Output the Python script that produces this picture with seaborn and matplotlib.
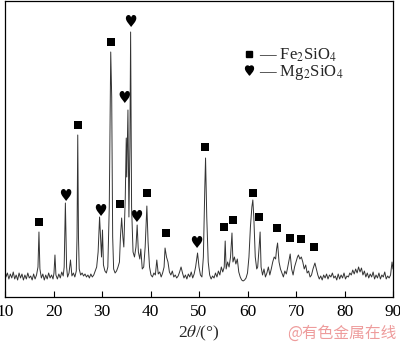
import matplotlib
matplotlib.use("Agg")
import matplotlib.pyplot as plt
import seaborn as sns
import pandas as pd
from matplotlib.lines import Line2D

# ---- data (2theta in degrees, intensity in arbitrary units) ----
two_theta = [
    10.0, 10.2, 10.5, 10.8, 11.1, 11.4, 11.7, 12.0, 12.3, 12.6, 12.9, 13.2, 13.5, 13.8, 14.1, 14.4,
    14.7, 15.0, 15.3, 15.6, 15.9, 16.2, 16.5, 16.8, 17.0, 17.2, 17.5, 17.8, 18.1, 18.4, 18.7, 19.0,
    19.3, 19.6, 19.9, 20.1, 20.3, 20.5, 20.8, 21.1, 21.4, 21.7, 22.0, 22.2, 22.45, 22.7, 22.9, 23.2,
    23.5, 23.8, 24.1, 24.4, 24.7, 24.85, 25.0, 25.15, 25.3, 25.6, 25.9, 26.2, 26.5, 26.8, 27.1, 27.4,
    27.7, 28.0, 28.3, 28.6, 28.9, 29.2, 29.5, 29.7, 29.9, 30.1, 30.3, 30.6, 30.9, 31.2, 31.5, 31.8,
    32.0, 32.2, 32.4, 32.7, 33.0, 33.3, 33.6, 33.8, 34.05, 34.3, 34.5, 34.8, 35.0, 35.1, 35.35, 35.55,
    35.75, 35.9, 36.1, 36.4, 36.7, 37.0, 37.25, 37.5, 37.8, 38.0, 38.3, 38.6, 38.9, 39.25, 39.5, 39.8,
    40.1, 40.4, 40.7, 41.0, 41.3, 41.6, 41.9, 42.2, 42.5, 42.8, 43.0, 43.3, 43.6, 43.9, 44.2, 44.5,
    44.8, 45.1, 45.4, 45.7, 46.0, 46.3, 46.6, 46.9, 47.2, 47.5, 47.8, 48.1, 48.4, 48.7, 49.0, 49.3,
    49.7, 50.0, 50.3, 50.6, 50.9, 51.2, 51.35, 51.6, 51.9, 52.2, 52.5, 52.8, 53.1, 53.4, 53.7, 54.0,
    54.3, 54.6, 54.9, 55.2, 55.4, 55.6, 55.9, 56.2, 56.5, 56.8, 57.0, 57.3, 57.6, 57.9, 58.2, 58.5,
    58.8, 59.1, 59.4, 59.7, 60.0, 60.3, 60.6, 60.9, 61.1, 61.3, 61.6, 61.9, 62.1, 62.4, 62.6, 62.8,
    63.1, 63.4, 63.7, 64.0, 64.3, 64.6, 64.9, 65.2, 65.5, 65.8, 66.0, 66.2, 66.5, 66.8, 67.1, 67.4,
    67.7, 68.0, 68.3, 68.6, 68.8, 69.1, 69.4, 69.7, 70.0, 70.3, 70.5, 70.8, 71.1, 71.4, 71.7, 72.0,
    72.3, 72.6, 72.9, 73.2, 73.5, 73.9, 74.2, 74.5, 74.8, 75.1, 75.4, 75.7, 76.0, 76.3, 76.6, 76.9,
    77.2, 77.5, 77.8, 78.1, 78.4, 78.7, 79.0, 79.3, 79.6, 79.9, 80.2, 80.5, 80.8, 81.1, 81.4, 81.7,
    82.0, 82.3, 82.6, 82.9, 83.2, 83.5, 83.8, 84.1, 84.4, 84.7, 85.0, 85.3, 85.6, 85.9, 86.2, 86.5,
    86.8, 87.1, 87.4, 87.7, 88.0, 88.3, 88.6, 88.9, 89.2, 89.5, 89.8, 90.0,
]
intensity = [
    29, 20, 24, 18, 23, 19, 25, 18, 22, 17, 24, 19, 23, 17, 22, 18,
    24, 19, 21, 17, 23, 18, 22, 30, 65, 28, 19, 23, 17, 22, 18, 24,
    19, 22, 18, 24, 42, 22, 18, 23, 19, 25, 21, 30, 94, 30, 20, 24,
    37, 21, 24, 20, 26, 60, 162, 60, 28, 22, 24, 21, 23, 20, 22, 19,
    23, 20, 22, 26, 30, 45, 80, 60, 40, 67, 32, 26, 24, 30, 90, 245,
    200, 60, 28, 24, 26, 30, 35, 60, 79, 60, 50, 100, 159, 120, 187, 80,
    150, 265, 90, 45, 40, 50, 72, 45, 38, 48, 28, 30, 50, 91, 55, 30,
    22, 20, 24, 22, 37, 23, 25, 20, 24, 30, 49, 40, 35, 25, 22, 26,
    20, 22, 19, 21, 25, 30, 24, 19, 22, 18, 23, 20, 25, 19, 23, 30,
    44, 30, 22, 20, 40, 110, 139, 80, 35, 22, 18, 21, 19, 24, 20, 26,
    22, 30, 25, 30, 56, 28, 35, 30, 40, 64, 35, 40, 33, 38, 25, 20,
    17, 16, 17, 19, 24, 40, 70, 90, 97, 80, 40, 28, 30, 50, 65, 30,
    22, 28, 20, 24, 30, 22, 28, 35, 40, 38, 48, 54, 35, 28, 24, 20,
    26, 23, 30, 38, 43, 28, 22, 30, 35, 40, 42, 38, 40, 35, 28, 32,
    24, 26, 20, 22, 28, 34, 28, 22, 18, 21, 17, 22, 19, 23, 18, 22,
    20, 24, 19, 21, 17, 23, 18, 22, 19, 24, 18, 21, 20, 24, 22, 27,
    23, 28, 24, 30, 25, 29, 22, 26, 20, 24, 19, 23, 20, 25, 18, 22,
    19, 24, 18, 22, 20, 25, 18, 21, 19, 22, 35, 28,
]

# phase markers (position, marker height)
fe2sio4_pos = [17.0, 25.05, 31.86, 33.7, 39.3, 43.2, 51.2, 55.2, 57.0, 61.1, 62.4, 66.1, 68.8, 71.0, 73.7]
fe2sio4_h = [75, 172, 255, 93, 104, 64, 150, 70, 77, 104, 80, 69, 59, 58, 50]
mg2sio4_pos = [22.6, 29.8, 34.7, 36.0, 37.2, 49.6]
mg2sio4_h = [102, 87, 200, 276, 81, 55]

x_ticks = [10, 20, 30, 40, 50, 60, 70, 80, 90]
phase_labels = ["\u2014 Fe$_2$SiO$_4$", "\u2014 Mg$_2$SiO$_4$"]

sns.set_theme(style="white")
plt.rcParams["font.family"] = ["Liberation Serif", "DejaVu Sans"]
plt.rcParams["mathtext.fontset"] = "stix"

fig = plt.figure(figsize=(4.0, 3.43), dpi=100)
ax = fig.add_axes([5 / 400, 1 - 297 / 343, 388 / 400, 296 / 343])

df = pd.DataFrame({"two_theta": two_theta, "intensity": intensity})
sns.lineplot(data=df, x="two_theta", y="intensity", ax=ax, color="#333333", lw=0.7)

sq = pd.DataFrame({"x": fe2sio4_pos, "y": fe2sio4_h})
ht = pd.DataFrame({"x": mg2sio4_pos, "y": mg2sio4_h})
sns.scatterplot(data=sq, x="x", y="y", marker="s", s=36, color="black", edgecolor="none", ax=ax)
sns.scatterplot(data=ht, x="x", y="y", marker="$\u2665$", s=75, color="black", edgecolor="none", ax=ax)

ax.set_xlim(10, 90)
ax.set_ylim(0, 296)
ax.set_xticks(x_ticks)
ax.set_xticklabels([str(t) for t in x_ticks], fontsize=12.5)
ax.set_yticks([])
ax.set_ylabel("")
ax.set_xlabel(r"2$\theta$/(°)", fontsize=12.5, labelpad=3)
ax.tick_params(axis="x", direction="in", length=4, width=0.8, pad=5, bottom=True, colors="black")
for sp in ax.spines.values():
    sp.set_visible(True)
    sp.set_color("black")
    sp.set_linewidth(0.9)

handles = [
    Line2D([], [], marker="s", color="black", ls="none", markersize=4.5),
    Line2D([], [], marker="$\u2665$", color="black", ls="none", markersize=6.5),
]
ax.legend(handles, phase_labels, loc="upper left", bbox_to_anchor=(0.615, 0.845), frameon=False,
          fontsize=12, handlelength=0.7, handletextpad=0.25, borderpad=0, borderaxespad=0,
          labelspacing=-0.08)

fig.text(397 / 400, 1 - 333 / 343, "@有色金属在线", ha="right", va="center", fontsize=11.3,
         color="#ee9c9c", family=["Noto Sans CJK SC", "DejaVu Sans"])

fig.savefig("out.png", dpi=100)
